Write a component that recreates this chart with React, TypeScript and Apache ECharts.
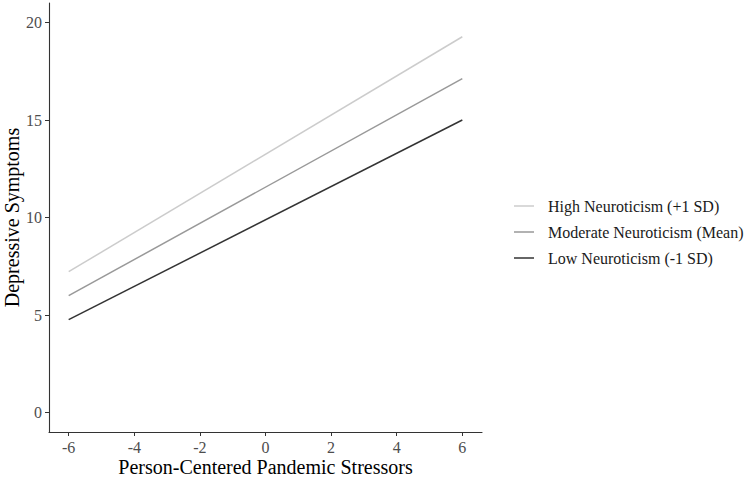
import React, { useEffect, useRef } from "react";
import * as echarts from "echarts";

const xValues = [-6, 6];
const highValues = [7.22, 19.27];
const moderateValues = [5.99, 17.12];
const lowValues = [4.76, 15.0];
const seriesNames = [
  "High Neuroticism (+1 SD)",
  "Moderate Neuroticism (Mean)",
  "Low Neuroticism (-1 SD)",
];
const seriesColors = ["#cccccc", "#999999", "#333333"];
const xTicks = [-6, -4, -2, 0, 2, 4, 6];
const yTicks = [0, 5, 10, 15, 20];

const FONT = "Liberation Serif";

export default function App() {
  const ref = useRef<HTMLDivElement>(null);
  useEffect(() => {
    if (!ref.current) return;
    const chart = echarts.init(ref.current, undefined, { renderer: "svg" });
    const all = [highValues, moderateValues, lowValues];
    chart.setOption({
      animation: false,
      backgroundColor: "#ffffff",
      textStyle: { fontFamily: FONT },
      grid: {
        left: 49,
        right: 265,
        top: 3,
        bottom: 45,
        containLabel: false,
        outerBoundsMode: "none",
      },
      legend: {
        orient: "vertical",
        left: 514,
        top: 198,
        padding: 0,
        itemWidth: 20,
        itemHeight: 16,
        itemGap: 10,
        icon: "path://M0,7 L20,7 L20,8.5 L0,8.5 Z",
        textStyle: { fontFamily: FONT, fontSize: 16, color: "#1a1a1a", padding: [0, 0, 0, 9] },
        data: seriesNames,
      },
      xAxis: {
        type: "value",
        min: -6.6,
        max: 6.6,
        name: "Person-Centered Pandemic Stressors",
        nameLocation: "middle",
        nameMoveOverlap: false,
        nameGap: 25,
        nameTextStyle: { fontFamily: FONT, fontSize: 20, color: "#000000" },
        axisLine: { show: true, onZero: false, lineStyle: { color: "#333333", width: 1.1 } },
        axisTick: { show: true, length: 4, customValues: xTicks, lineStyle: { color: "#333333" } },
        axisLabel: {
          customValues: xTicks,
          fontFamily: FONT,
          fontSize: 16,
          color: "#4d4d4d",
          margin: 7,
        },
        splitLine: { show: false },
      },
      yAxis: {
        type: "value",
        min: -1,
        max: 21,
        name: "Depressive Symptoms",
        nameLocation: "middle",
        nameMoveOverlap: false,
        nameGap: 27,
        nameTextStyle: { fontFamily: FONT, fontSize: 20, color: "#000000" },
        axisLine: { show: true, onZero: false, lineStyle: { color: "#333333", width: 1.1 } },
        axisTick: { show: true, length: 4, customValues: yTicks, lineStyle: { color: "#333333" } },
        axisLabel: {
          customValues: yTicks,
          fontFamily: FONT,
          fontSize: 16,
          color: "#4d4d4d",
          margin: 7,
        },
        splitLine: { show: false },
      },
      series: seriesNames.map((name, i) => ({
        name,
        type: "line",
        symbol: "none",
        color: seriesColors[i],
        lineStyle: { color: seriesColors[i], width: 1.5 },
        data: xValues.map((x, j) => [x, all[i][j]]),
      })),
    });
    return () => chart.dispose();
  }, []);
  return <div ref={ref} style={{ width: 747, height: 477, position: "absolute", left: 0, top: 0 }} />;
}
